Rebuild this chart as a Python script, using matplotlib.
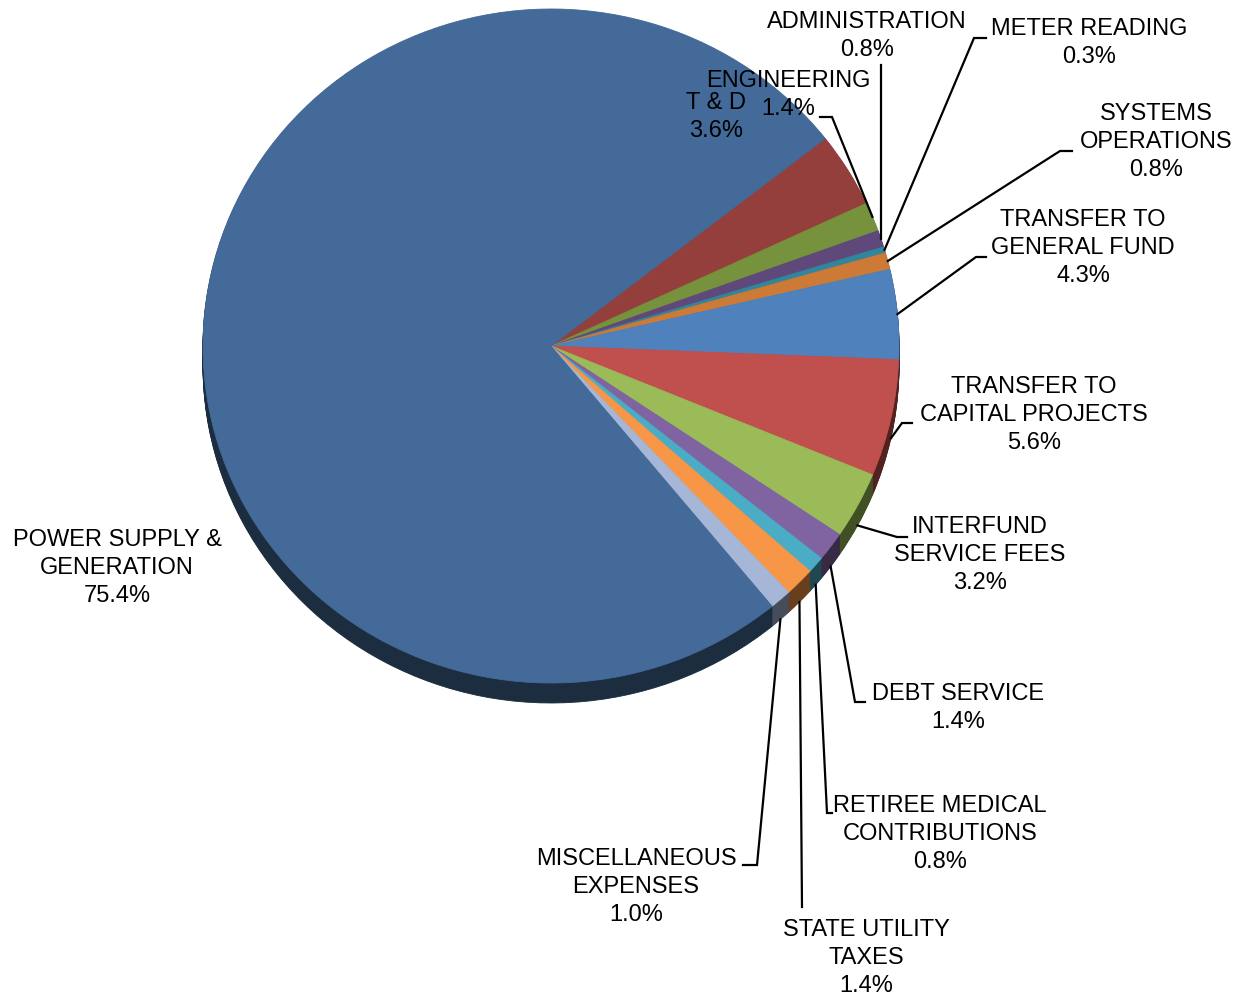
import numpy as np
import matplotlib
matplotlib.use("Agg")
import matplotlib.pyplot as plt
import matplotlib.colors as mcolors

# slice data, clockwise from the T & D slice
labels = ["T & D", "ENGINEERING", "ADMINISTRATION", "METER READING",
          "SYSTEMS\nOPERATIONS", "TRANSFER TO\nGENERAL FUND",
          "TRANSFER TO\nCAPITAL PROJECTS", "INTERFUND\nSERVICE FEES",
          "DEBT SERVICE", "RETIREE MEDICAL\nCONTRIBUTIONS",
          "STATE UTILITY\nTAXES", "MISCELLANEOUS\nEXPENSES",
          "POWER SUPPLY &\nGENERATION"]
shares = [3.6, 1.4, 0.8, 0.3, 0.8, 4.3, 5.6, 3.2, 1.4, 0.8, 1.4, 1.0, 75.4]
colors = ["#943F3C", "#76923C", "#5F497A", "#31859C", "#CC7A35", "#4F81BD",
          "#C0504D", "#9BBB59", "#8064A2", "#4BACC6", "#F79646", "#A5B6D6",
          "#436A98"]

# --- layout in pixels ---
W, H = 1247, 1000
CX, CY = 551, 346      # pie centre
RX, RY = 348, 337      # top face radii
DEPTH = 20             # 3d side thickness

# label centres and leader line bends (pixels)
label_pos = [(716, 117), (788, 95), (867, 36), (1089, 43), (1156, 142),
             (1083, 248), (1034, 415), (980, 555), (958, 708), (940, 834),
             (866, 958), (636, 887), (117, 568)]
leader_pts = [None,
              [(832, 117), (820, 117)],
              [(881, 65)],
              [(974, 38), (986, 38)],
              [(1060, 151), (1072, 151)],
              [(976, 257), (986, 257)],
              [(902, 423), (912, 423)],
              [(897, 537), (907, 537)],
              [(855, 702), (865, 702)],
              [(827, 813), (832, 813)],
              [(802, 907)],
              [(757, 865), (743, 865)],
              None]


def P(x, y):
    # pixel -> unit-circle data coordinates
    return (x - CX) / RX, (CY - y) / RY


def darker(c, f=0.42):
    r, g, b = mcolors.to_rgb(c)
    return (r * f, g * f, b * f)


plt.rcParams['font.family'] = ['Liberation Sans', 'DejaVu Sans']

fig = plt.figure(figsize=(W / 100, H / 100), dpi=100)
ax = fig.add_axes([0, 0, 1, 1])

# stacked copies give the 3d side
side_colors = [darker(c) for c in colors]
for k in range(DEPTH, 0, -1):
    ax.pie(shares, colors=side_colors, startangle=38, counterclock=False,
           radius=1, center=(0, -k / RY),
           wedgeprops=dict(linewidth=0.6))
    for w, c in zip(ax.patches[-len(shares):], side_colors):
        w.set_edgecolor(c)

wedges, _ = ax.pie(shares, colors=colors, startangle=38, counterclock=False,
                   radius=1, center=(0, 0),
                   wedgeprops=dict(linewidth=0.6))
for w, c in zip(wedges, colors):
    w.set_edgecolor(c)

ax.set_aspect('auto')
ax.set_xlim(-CX / RX, (W - CX) / RX)
ax.set_ylim((CY - H) / RY, CY / RY)
ax.axis('off')

for i, w in enumerate(wedges):
    txt = f"{labels[i]}\n{shares[i]:.1f}%"
    lx, ly = P(*label_pos[i])
    ax.text(lx, ly, txt, ha='center', va='center', fontsize=17,
            linespacing=1.38, color='black')
    if leader_pts[i] is None:
        continue
    mid = np.deg2rad((w.theta1 + w.theta2) / 2)
    sx, sy = np.cos(mid), np.sin(mid)
    if sy < 0:
        sy -= DEPTH / RY
    pts = [(sx, sy)] + [P(x, y) for x, y in leader_pts[i]]
    if i == 2:
        # administration leader is a straight vertical
        pts[1] = (sx, pts[1][1])
    ax.plot([p[0] for p in pts], [p[1] for p in pts], color='black', lw=1.6,
            solid_joinstyle='miter')

fig.savefig("out.png", dpi=100)
